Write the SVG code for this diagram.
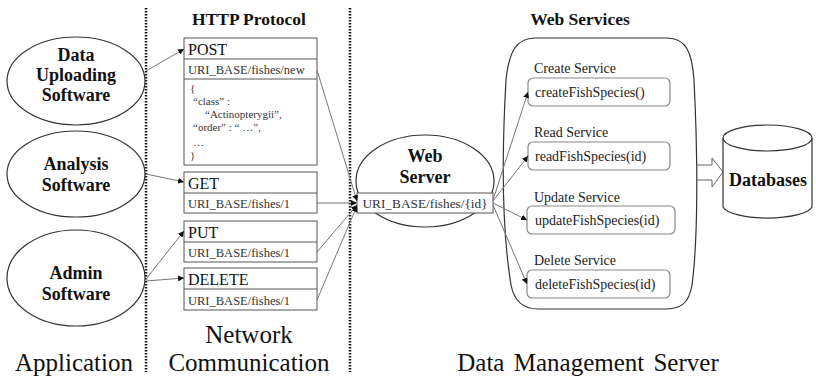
<svg xmlns="http://www.w3.org/2000/svg" width="816" height="380" viewBox="0 0 816 380" font-family="Liberation Serif, DejaVu Serif, serif">
  <style>
    text { font-family: 'Liberation Serif', 'DejaVu Serif', serif; fill: #111; }
    .bold { font-weight: bold; font-size: 18px; text-anchor: middle; }
    .node { fill: #fff; stroke: #333; stroke-width: 1.2; }
    .box { fill: #fff; stroke: #555; stroke-width: 1; }
    .svc { fill: #fff; stroke: #888; stroke-width: 1.2; }
    .method { font-size: 16px; }
    .uri { font-size: 12.5px; fill: #333; }
    .body { font-size: 11px; fill: #333; }
    .svclabel { font-size: 14px; fill: #222; }
    .svctext { font-size: 14px; fill: #222; }
    .big { font-size: 25px; }
    .divider { stroke: #111; stroke-width: 2.5; stroke-dasharray: 1.5 1.5; }
    .conn { fill: none; stroke: #777; stroke-width: 1; marker-end: url(#arrow); }
  </style>
  <defs>
    <marker id="arrow" viewBox="0 0 10 10" refX="10" refY="5" markerWidth="6" markerHeight="6" markerUnits="userSpaceOnUse" orient="auto">
      <path d="M0,0 L10,5 L0,10 z" fill="#111"/>
    </marker>
  </defs>

  <rect width="816" height="380" fill="#fff"/>

  <!-- column dividers -->
  <line class="divider" x1="146" y1="8" x2="146" y2="372"/>
  <line class="divider" x1="350" y1="8" x2="350" y2="372"/>

  <!-- client applications -->
  <g id="data-uploading">
    <ellipse class="node" cx="76" cy="81" rx="69" ry="44"/>
    <text class="bold" x="76" y="61">Data</text>
    <text class="bold" x="76" y="81">Uploading</text>
    <text class="bold" x="76" y="101">Software</text>
  </g>
  <g id="analysis">
    <ellipse class="node" cx="76" cy="174" rx="69" ry="43"/>
    <text class="bold" x="76" y="170">Analysis</text>
    <text class="bold" x="76" y="191">Software</text>
  </g>
  <g id="admin">
    <ellipse class="node" cx="76" cy="278" rx="69" ry="48"/>
    <text class="bold" x="76" y="279">Admin</text>
    <text class="bold" x="76" y="300">Software</text>
  </g>

  <!-- HTTP requests -->
  <text class="bold" x="249" y="25" style="font-size:17.5px">HTTP Protocol</text>
  <g id="post">
    <rect class="box" x="184" y="38" width="133" height="127"/>
    <line class="box" x1="184" y1="59" x2="317" y2="59"/>
    <line class="box" x1="184" y1="79" x2="317" y2="79"/>
    <text class="method" x="188" y="55">POST</text>
    <text class="uri" x="188" y="74">URI_BASE/fishes/new</text>
    <text class="body" x="190" y="92">{</text>
    <text class="body" x="193" y="105">“class” :</text>
    <text class="body" x="205" y="118">“Actinopterygii”,</text>
    <text class="body" x="193" y="131">“order” : “ …”,</text>
    <text class="body" x="193" y="146">…</text>
    <text class="body" x="190" y="159">}</text>
  </g>
  <g id="get">
    <rect class="box" x="184" y="172" width="133" height="41"/>
    <line class="box" x1="184" y1="193" x2="317" y2="193"/>
    <text class="method" x="188" y="189">GET</text>
    <text class="uri" x="188" y="208">URI_BASE/fishes/1</text>
  </g>
  <g id="put">
    <rect class="box" x="184" y="221" width="133" height="41"/>
    <line class="box" x1="184" y1="242" x2="317" y2="242"/>
    <text class="method" x="188" y="238">PUT</text>
    <text class="uri" x="188" y="257">URI_BASE/fishes/1</text>
  </g>
  <g id="delete">
    <rect class="box" x="184" y="268" width="133" height="42"/>
    <line class="box" x1="184" y1="289" x2="317" y2="289"/>
    <text class="method" x="188" y="285">DELETE</text>
    <text class="uri" x="188" y="305">URI_BASE/fishes/1</text>
  </g>

  <!-- web server -->
  <g id="web-server">
    <ellipse class="node" cx="425" cy="181" rx="69" ry="46"/>
    <text class="bold" x="425" y="162">Web</text>
    <text class="bold" x="425" y="183">Server</text>
    <rect class="box" x="357" y="193" width="136" height="20"/>
    <text x="425" y="208" style="font-size:13.3px; text-anchor:middle; fill:#333">URI_BASE/fishes/{id}</text>
  </g>

  <!-- web services -->
  <text class="bold" x="580" y="25" style="font-size:17.5px">Web Services</text>
  <g id="web-services">
    <path class="node" d="M535,38 H667 C686,38 692,52 694,80 C698,160 698,240 692,285 C689,304 680,309 665,309 H538 C522,309 514,300 511,285 C502,230 502,150 506,80 C509,52 516,38 535,38 Z"/>
  </g>
  <g id="create-service">
    <text class="svclabel" x="534" y="73">Create Service</text>
    <rect class="svc" x="528" y="78" width="142" height="28" rx="5"/>
    <text class="svctext" x="535" y="97">createFishSpecies()</text>
  </g>
  <g id="read-service">
    <text class="svclabel" x="534" y="137">Read Service</text>
    <rect class="svc" x="528" y="142" width="142" height="28" rx="5"/>
    <text class="svctext" x="535" y="161">readFishSpecies(id)</text>
  </g>
  <g id="update-service">
    <text class="svclabel" x="534" y="202">Update Service</text>
    <rect class="svc" x="527" y="206" width="148" height="28" rx="5"/>
    <text class="svctext" x="535" y="225">updateFishSpecies(id)</text>
  </g>
  <g id="delete-service">
    <text class="svclabel" x="534" y="265">Delete Service</text>
    <rect class="svc" x="527" y="270" width="143" height="28" rx="5"/>
    <text class="svctext" x="535" y="289">deleteFishSpecies(id)</text>
  </g>

  <!-- storage -->
  <g id="to-db">
    <polygon points="697,165 712,165 712,158 723,172 712,187 712,180 697,180" fill="#fff" stroke="#666" stroke-width="1"/>
  </g>
  <g id="databases">
    <path class="node" d="M723,138 V207 A45,13 0 0 0 812,207 V138"/>
    <ellipse class="node" cx="767.5" cy="138" rx="44.5" ry="13"/>
    <text class="bold" x="768" y="186">Databases</text>
  </g>

  <!-- tier captions -->
  <text class="big" x="74" y="371" text-anchor="middle">Application</text>
  <text class="big" x="249" y="343" text-anchor="middle">Network</text>
  <text class="big" x="249" y="371" text-anchor="middle">Communication</text>
  <text class="big" x="588" y="371" text-anchor="middle" style="word-spacing:3px">Data Management Server</text>

  <!-- connectors -->
  <g id="connectors">
    <line class="conn" x1="146" y1="71" x2="184" y2="49"/>
    <line class="conn" x1="146" y1="174" x2="184" y2="182"/>
    <line class="conn" x1="146" y1="279" x2="184" y2="231"/>
    <line class="conn" x1="146" y1="281" x2="184" y2="278"/>
    <line class="conn" x1="317" y1="70" x2="357" y2="201"/>
    <line class="conn" x1="317" y1="203" x2="357" y2="203"/>
    <line class="conn" x1="317" y1="252" x2="357" y2="205"/>
    <line class="conn" x1="317" y1="300" x2="357" y2="206"/>
    <line class="conn" x1="493" y1="200" x2="528" y2="92"/>
    <line class="conn" x1="493" y1="201" x2="528" y2="156"/>
    <line class="conn" x1="493" y1="203" x2="527" y2="220"/>
    <line class="conn" x1="493" y1="205" x2="527" y2="284"/>
  </g>
</svg>
